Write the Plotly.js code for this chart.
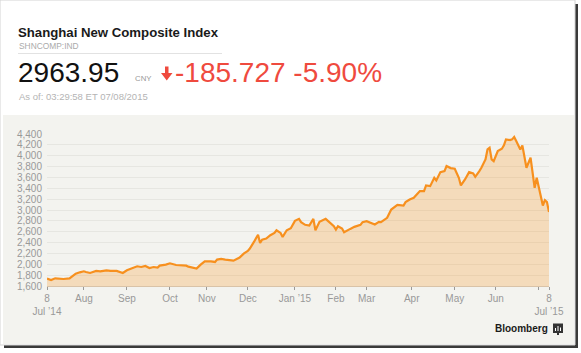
<!DOCTYPE html>
<html>
<head>
<meta charset="utf-8">
<script src="https://cdn.plot.ly/plotly-3.0.1.min.js"></script>
<style>
html,body{margin:0;padding:0;background:#fff;}
#chart{width:581px;height:353px;}
</style>
</head>
<body>
<div id="chart"></div>
<script>
// Trading-day index since 8 Jul 2014 (x) and index close (y)
const tradingDay = [0,2,4,8,11,14,16,18,19,21,24,26,29,31,34,37,39,42,44,46,48,50,52,54,55,58,60,63,65,68,69,72,73,75,77,80,82,83,85,87,90,91,94,96,98,99,101,103,104,105,107,109,111,112,114,115,117,119,121,123,124,126,128,129,130,131,133,136,138,140,141,142,144,145,148,150,153,154,156,158,160,162,163,166,168,171,172,174,175,177,179,180,182,184,185,187,189,190,192,194,195,197,199,201,202,204,206,208,209,211,212,214,215,216,217,218,220,222,223,224,226,227,228,229,231,232,234,236,237,238,239,241,242,243,244,245];
const closeValue = [1735,1711,1741,1729,1741,1828,1852,1871,1858,1840,1877,1871,1889,1877,1877,1840,1889,1938,1963,1950,1969,1932,1950,1938,1975,1994,2018,1987,1987,1975,1957,1920,1920,1994,2055,2055,2043,2086,2098,2086,2074,2067,2123,2197,2246,2289,2412,2545,2393,2455,2473,2535,2578,2627,2578,2504,2627,2665,2800,2837,2776,2727,2714,2764,2837,2628,2782,2837,2776,2702,2640,2702,2659,2591,2652,2689,2727,2776,2794,2764,2733,2782,2776,2856,3009,3095,3095,3083,3145,3194,3225,3268,3348,3348,3452,3440,3594,3544,3698,3716,3809,3772,3760,3594,3452,3563,3698,3673,3612,3716,3778,3932,4116,4147,3932,3901,4086,4129,4190,4301,4289,4301,4344,4270,4116,4190,3778,3963,3686,3409,3594,3286,3083,3181,3145,2963.95];
const tickDay = [0,18,39,60,78,98,121,141,156,178,199,219,240,245];
const tickLabel = ["8<br>Jul \u201914","Aug","Sep","Oct","Nov","Dec","Jan \u201915","Feb","Mar","Apr","May","Jun","","8<br>Jul \u201915"];
const yTicks = [1600,1800,2000,2200,2400,2600,2800,3000,3200,3400,3600,3800,4000,4200,4400];

const W = 581, H = 353;
const L = 47, R = 32, T = 134, B = 67;
const PW = W - L - R, PH = H - T - B;
const px = v => (v - L) / PW;
const py = v => (T + PH - v) / PH;

const font = "Liberation Sans, Arial, Helvetica, sans-serif";

function ann(text, x, y, size, color, opts) {
  return Object.assign({
    text: text, xref: 'paper', yref: 'paper', x: px(x), y: py(y),
    xanchor: 'left', yanchor: 'middle', showarrow: false, borderpad: 0,
    font: {family: font, size: size, color: color}
  }, opts || {});
}

function pathOf(pts) {
  return 'M' + pts.map(p => px(p[0]) + ',' + py(p[1])).join(' L') + ' Z';
}

const shapes = [
  // outer frame + drop shadow
  {type:'rect', xref:'paper', yref:'paper', x0:px(4), x1:px(578), y0:py(348), y1:py(4), fillcolor:'#3a3a3a', line:{width:0}, layer:'below'},
  {type:'rect', xref:'paper', yref:'paper', x0:px(0), x1:px(575), y0:py(345), y1:py(0), fillcolor:'#ffffff', line:{width:1, color:'#d4d4d4'}, layer:'below'},
  // chart panel
  {type:'rect', xref:'paper', yref:'paper', x0:px(3), x1:px(574), y0:py(344), y1:py(115), fillcolor:'#f3f3ef', line:{width:0}, layer:'below'},
  // separator under title
  {type:'line', xref:'paper', yref:'paper', x0:px(18), x1:px(222), y0:py(53.5), y1:py(53.5), line:{width:1, color:'#e2e2e2'}},
  // red down arrow
  {type:'path', xref:'paper', yref:'paper', path: pathOf([[165,66.5],[168.5,66.5],[168.5,73],[172.5,73],[166.75,80.5],[161,73],[165,73]]), fillcolor:'#ef4a3e', line:{width:0}},
  // Bloomberg icon
  {type:'rect', xref:'paper', yref:'paper', x0:px(553), x1:px(563), y0:py(333), y1:py(323.5), fillcolor:'#333333', line:{width:0}},
  {type:'rect', xref:'paper', yref:'paper', x0:px(557), x1:px(559), y0:py(335), y1:py(333), fillcolor:'#333333', line:{width:0}},
  {type:'line', xref:'paper', yref:'paper', x0:px(555.5), x1:px(555.5), y0:py(331), y1:py(328), line:{width:1, color:'#ffffff'}},
  {type:'line', xref:'paper', yref:'paper', x0:px(558), x1:px(558), y0:py(331), y1:py(326), line:{width:1, color:'#ffffff'}},
  {type:'line', xref:'paper', yref:'paper', x0:px(560.5), x1:px(560.5), y0:py(331), y1:py(327.5), line:{width:1, color:'#ffffff'}}
];

const annotations = [
  ann('<b>Shanghai New Composite Index</b>', 17, 32.5, 13.2, '#1a1a1a'),
  ann('SHNCOMP:IND', 17.5, 45.5, 8.4, '#aaaaaa'),
  ann('2963.95', 17, 72.5, 28, '#111111'),
  ann('CNY', 133.5, 78.5, 7.8, '#999999'),
  ann('-185.727 -5.90%', 174, 72.5, 28, '#ef4a3e'),
  ann('As of: 03:29:58 ET 07/08/2015', 17.5, 96.5, 9.5, '#b4b4b4'),
  ann('<b>Bloomberg</b>', 549, 328, 10, '#1a1a1a', {xanchor:'right'})
];

const trace = {
  x: tradingDay, y: closeValue, type: 'scatter', mode: 'lines',
  line: {color: '#f7901e', width: 2.2},
  fill: 'tozeroy', fillcolor: 'rgba(247,147,30,0.25)',
  hoverinfo: 'skip'
};

const layout = {
  width: W, height: H,
  margin: {l: L, r: R, t: T, b: B, autoexpand: false},
  paper_bgcolor: 'rgba(0,0,0,0)', plot_bgcolor: 'rgba(0,0,0,0)',
  showlegend: false,
  font: {family: font, size: 10, color: '#999999'},
  xaxis: {
    range: [0, 245], tickmode: 'array', tickvals: tickDay, ticktext: tickLabel,
    showgrid: false, zeroline: false, showline: true, linecolor: '#d9c3a8', linewidth: 1,
    ticks: 'outside', ticklen: 3, tickcolor: '#999999', tickwidth: 1,
    tickfont: {family: font, size: 10, color: '#999999'}, fixedrange: true
  },
  yaxis: {
    range: [1600, 4400], tickmode: 'array', tickvals: yTicks, tickformat: ',d',
    showgrid: true, gridcolor: '#e6e6e1', gridwidth: 1, zeroline: false, showline: false,
    ticks: '', ticklabelstandoff: 4,
    tickfont: {family: font, size: 10, color: '#999999'}, fixedrange: true
  },
  shapes: shapes,
  annotations: annotations
};

Plotly.newPlot('chart', [trace], layout, {displayModeBar: false, staticPlot: true});
</script>
</body>
</html>
